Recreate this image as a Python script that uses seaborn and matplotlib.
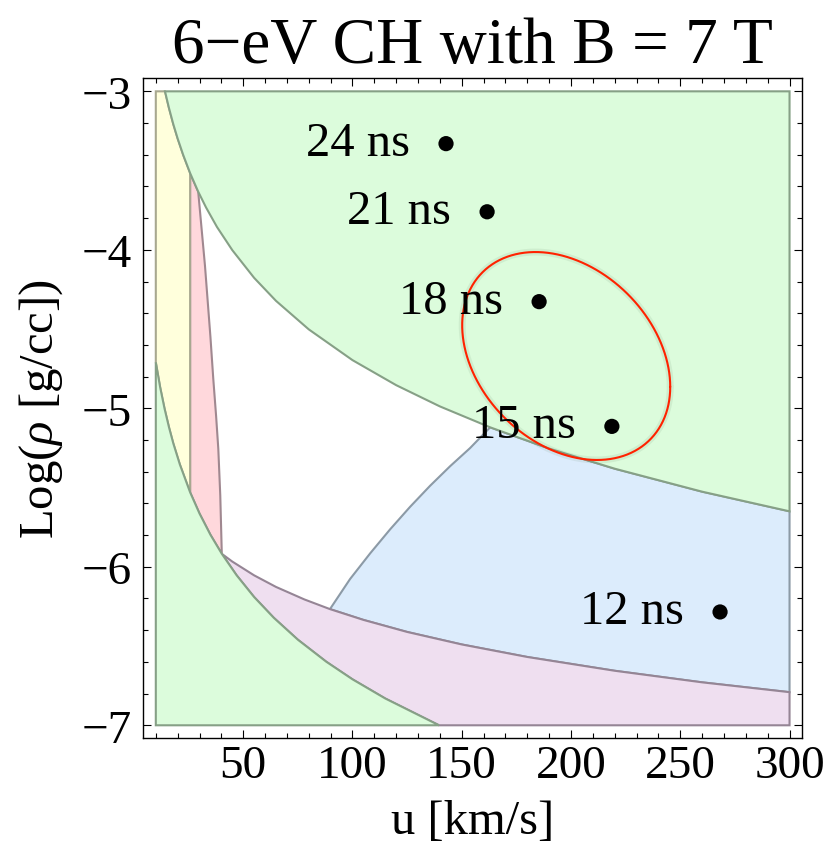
import numpy as np
import pandas as pd
import matplotlib
matplotlib.use("Agg")
import matplotlib.pyplot as plt
import seaborn as sns

# ---------------- data ----------------
times = ["24 ns", "21 ns", "18 ns", "15 ns", "12 ns"]
u_pts = [142.8, 161.6, 185.4, 218.7, 268.2]
logrho_pts = [-3.33, -3.76, -4.327, -5.114, -6.285]

# upper green boundary
ug_u = [14.2, 16, 18, 20, 22.5, 25.7, 29.4, 33, 38, 45, 55, 65, 80, 100, 120,
        140, 163, 190, 220, 260, 300]
ug_y = [-3.000, -3.104, -3.207, -3.298, -3.400, -3.516, -3.633, -3.733, -3.856,
        -4.002, -4.177, -4.322, -4.502, -4.696, -4.854, -4.988, -5.120, -5.254,
        -5.381, -5.526, -5.650]
# lower green boundary
lg_u = [10, 12, 14, 16, 18, 21, 25.7, 30, 35, 40.2, 47, 55, 64, 75, 88, 100,
        115, 139.6]
lg_y = [-4.710, -4.868, -5.002, -5.118, -5.221, -5.354, -5.530, -5.664, -5.798,
        -5.918, -6.054, -6.191, -6.322, -6.460, -6.599, -6.710, -6.831, -7.000]
# purple top boundary
pt_u = [40.2, 45, 55, 65, 78, 89.7, 105, 125, 150, 180, 220, 260, 300]
pt_y = [-5.918, -5.967, -6.054, -6.127, -6.206, -6.267, -6.335, -6.411, -6.490,
        -6.569, -6.656, -6.729, -6.791]
# pink right (slanted) boundary
ps_u = [29.4, 32.5, 35.0, 36.3, 37.6, 38.6, 39.5, 40.2]
ps_y = [-3.633, -4.10, -4.55, -4.814, -5.05, -5.256, -5.55, -5.918]
# blue left boundary
bl_u = [89.7, 98.9, 108.1, 117.2, 126.4, 135.5, 144.7, 153.8, 163]
bl_y = [-6.267, -6.077, -5.915, -5.764, -5.621, -5.489, -5.365, -5.251, -5.120]

u_lo, u_hi = 10, 300
y_lo, y_hi = -7, -3
u_split = 25.7

# red ellipse
ell_cx, ell_cy = 197.8, -4.67
ell_rx, ell_ry = 47.6, 0.656
ell_corr = -0.296

# ---------------- style ----------------
sns.set_style("ticks")
plt.rcParams["font.family"] = ["Liberation Serif", "DejaVu Serif"]
plt.rcParams["mathtext.fontset"] = "custom"
plt.rcParams["mathtext.it"] = "Liberation Serif:italic"
plt.rcParams["mathtext.rm"] = "Liberation Serif"
for k in ["text.color", "axes.labelcolor", "xtick.color", "ytick.color",
          "axes.edgecolor"]:
    plt.rcParams[k] = "black"

fig = plt.figure(figsize=(8.3, 8.54), dpi=100)
ax = fig.add_axes([0.172, 0.1347, 0.794, 0.7724])

UGu, UGy = np.array(ug_u), np.array(ug_y)
LGu, LGy = np.array(lg_u), np.array(lg_y)
PTu, PTy = np.array(pt_u), np.array(pt_y)


def seg(u, y, lo, hi):
    m = (u >= lo - 1e-9) & (u <= hi + 1e-9)
    return list(u[m]), list(y[m])


lw = 1.5
# blue
a, b = seg(UGu, UGy, bl_u[-1], u_hi)
c, d = seg(PTu, PTy, bl_u[0], u_hi)
ax.fill(bl_u + a + c[::-1], bl_y + b + d[::-1], fc="#dcecfc", ec="#8c9aa6", lw=lw, zorder=1)
# purple
a, b = seg(LGu, LGy, pt_u[0], LGu[-1])
ax.fill(pt_u + [u_hi, LGu[-1]] + a[::-1], pt_y + [y_lo, y_lo] + b[::-1],
        fc="#efdff0", ec="#958595", lw=lw, zorder=2)
# pink
a, b = seg(UGu, UGy, u_split, ps_u[0])
c, d = seg(LGu, LGy, u_split, ps_u[-1])
ax.fill(a + ps_u + c[::-1], b + ps_y + d[::-1], fc="#ffd8dc", ec="#a08890", lw=lw, zorder=3)
# yellow
a, b = seg(UGu, UGy, ug_u[0], u_split)
c, d = seg(LGu, LGy, u_lo, u_split)
ax.fill([u_lo] + a + c[::-1], [y_hi] + b + d[::-1], fc="#ffffdc", ec="#a8a890", lw=lw, zorder=3)
# upper green
ax.fill(ug_u + [u_hi, ug_u[0]], ug_y + [y_hi, y_hi], fc="#dcfcdc", ec="#86a086", lw=lw, zorder=4)
# lower green
ax.fill(lg_u + [u_lo], lg_y + [y_lo], fc="#dcfcdc", ec="#86a086", lw=lw, zorder=4)

# ellipse
t = np.linspace(0, 2 * np.pi, 400)
ex = ell_cx + ell_rx * np.cos(t)
ey = ell_cy + ell_ry * (ell_corr * np.cos(t) + np.sqrt(1 - ell_corr ** 2) * np.sin(t))
ell_df = pd.DataFrame({"u": ex, "y": ey, "t": t})
sns.lineplot(data=ell_df, x="u", y="y", sort=False, estimator=None, ax=ax,
             color="#6a8a6a", lw=5, alpha=0.12, zorder=5)
sns.lineplot(data=ell_df, x="u", y="y", sort=False, estimator=None, ax=ax,
             color="#ff2200", lw=1.5, zorder=6)

# points
pts = pd.DataFrame({"u": u_pts, "y": logrho_pts, "label": times})
sns.scatterplot(data=pts, x="u", y="y", ax=ax, color="black", s=120,
                edgecolor="none", zorder=7)
for _, r in pts.iterrows():
    ax.annotate(r["label"], (r["u"], r["y"]), xytext=(-26, -8),
                textcoords="offset points", ha="right", va="baseline",
                fontsize=35, color="black", zorder=8)

ax.set_xlim(4.03, 305.6)
ax.set_ylim(-7.08, -2.918)
ax.set_xticks([50, 100, 150, 200, 250, 300])
ax.set_xticks(np.arange(10, 301, 10), minor=True)
ax.set_yticks([-7, -6, -5, -4, -3])
ax.set_yticks(np.arange(-7, -2.99, 0.2), minor=True)
ax.tick_params(which="both", direction="in", top=True, right=True,
               width=0.8, color="black", labelsize=34, labelcolor="black")
ax.tick_params(which="major", length=6)
ax.tick_params(which="minor", length=3.5)
ax.tick_params(axis="x", pad=5)
ax.tick_params(axis="y", pad=8)
for s in ax.spines.values():
    s.set_linewidth(1.0)
    s.set_color("black")

ax.set_xlabel("u [km/s]", fontsize=35, labelpad=8, color="black")
ax.set_ylabel(r"Log($\rho$ [g/cc])", fontsize=35, labelpad=12, color="black")
ax.set_title("6\u2212eV CH with B = 7 T", fontsize=47, pad=12, color="black")

fig.savefig("out.png", dpi=100)
